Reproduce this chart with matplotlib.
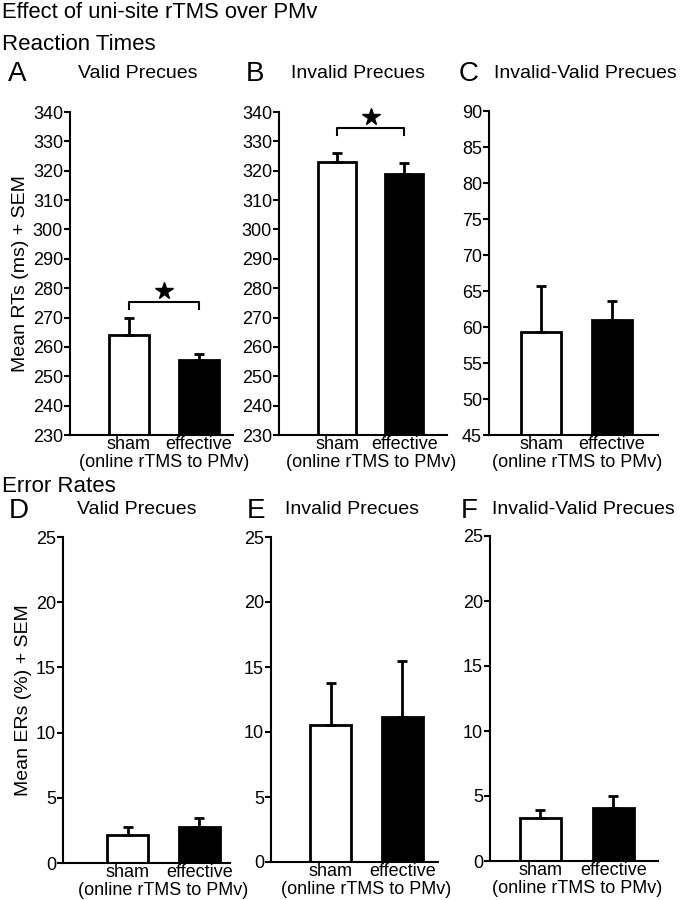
import matplotlib
matplotlib.use("Agg")
import matplotlib.pyplot as plt
import numpy as np

plt.rcParams['font.family'] = ['Liberation Sans', 'DejaVu Sans']

conditions = ["sham", "effective"]
group_label = "(online rTMS to PMv)"

letters = ["A", "B", "C", "D", "E", "F"]
panel_titles = ["Valid Precues", "Invalid Precues", "Invalid-Valid Precues",
                "Valid Precues", "Invalid Precues", "Invalid-Valid Precues"]

# Reaction times (ms)
rt_valid_mean = [263.9, 255.5]
rt_valid_sem = [6.0, 2.0]
rt_invalid_mean = [323.1, 319.0]
rt_invalid_sem = [2.8, 3.6]
rt_diff_mean = [59.3, 61.0]
rt_diff_sem = [6.4, 2.6]

# Error rates (%)
er_valid_mean = [2.17, 2.76]
er_valid_sem = [0.61, 0.69]
er_invalid_mean = [10.54, 11.15]
er_invalid_sem = [3.26, 4.31]
er_diff_mean = [3.33, 4.10]
er_diff_sem = [0.59, 0.90]

means = [rt_valid_mean, rt_invalid_mean, rt_diff_mean,
         er_valid_mean, er_invalid_mean, er_diff_mean]
sems = [rt_valid_sem, rt_invalid_sem, rt_diff_sem,
        er_valid_sem, er_invalid_sem, er_diff_sem]

ylims = [(230, 340), (230, 340), (45, 90), (0, 25), (0, 25), (0, 25)]
ysteps = [10, 10, 5, 5, 5, 5]
ylabels = ["Mean RTs (ms) + SEM", None, None, "Mean ERs (%) + SEM", None, None]
# significance brackets: (bracket y, drop y, star y)
sig = [(275.3, 273.0, 279.0), (334.7, 332.0, 338.3), None, None, None, None]

W, H = 683, 900
# axes rectangles in pixels: x0, x1, ytop, ybottom
rects = [(70, 233, 112, 435), (279, 447, 112, 435), (489, 658, 111, 435),
         (63, 230, 537, 863), (271, 438, 537, 862), (490, 658, 536, 861)]
xlims = [(-0.84, 1.49), (-0.87, 1.64), (-0.74, 1.65),
         (-0.9, 1.43), (-0.835, 1.5), (-0.69, 1.61)]

fig = plt.figure(figsize=(W / 100, H / 100), dpi=100)

fig.text(2 / W, 1 - 12 / H, "Effect of uni-site rTMS over PMv", fontsize=15.8, va='center', ha='left')
fig.text(2 / W, 1 - 45 / H, "Reaction Times", fontsize=16, va='center', ha='left')
fig.text(2 / W, 1 - 487 / H, "Error Rates", fontsize=16, va='center', ha='left')

for i in range(6):
    x0, x1, yt, yb = rects[i]
    ax = fig.add_axes([x0 / W, 1 - yb / H, (x1 - x0) / W, (yb - yt) / H])
    pos = [0, 1]
    lo = ylims[i][0]
    heights = [m - lo for m in means[i]]
    ax.bar(pos, heights, bottom=lo, width=0.57, color=['white', 'black'],
           edgecolor='black', linewidth=2.0, zorder=2)
    ax.errorbar(pos, means[i], yerr=[[0, 0], sems[i]], fmt='none', ecolor='black',
                elinewidth=2.0, capsize=3.5, capthick=2.0, zorder=3)
    ax.set_ylim(*ylims[i])
    ax.set_xlim(*xlims[i])
    ax.set_yticks(np.arange(ylims[i][0], ylims[i][1] + 0.01, ysteps[i]))
    ax.set_xticks(pos)
    ax.set_xticklabels(conditions, fontsize=13)
    ax.tick_params(axis='x', length=0, pad=1)
    ax.tick_params(axis='y', direction='out', length=4, width=1.5, labelsize=13, pad=1)
    for s in ['top', 'right']:
        ax.spines[s].set_visible(False)
    for s in ['left', 'bottom']:
        ax.spines[s].set_linewidth(1.5)
    gx = (0.5 - xlims[i][0]) / (xlims[i][1] - xlims[i][0])
    ax.text(gx, -0.085, group_label, transform=ax.transAxes,
            ha='center', va='center', fontsize=13)
    if ylabels[i]:
        ax.set_ylabel(ylabels[i], fontsize=14, labelpad=3)
    if sig[i]:
        by, dy, sy = sig[i]
        ax.plot([0, 0, 1, 1], [dy, by, by, dy], color='black', lw=1.5, clip_on=False)
        ax.plot([0.5], [sy], marker='*', color='black', markersize=13, clip_on=False)

letter_x = [8, 246, 459, 9, 247, 461]
title_x = [78, 291, 494, 77, 285, 492]
for i in range(6):
    ly = 74 if i < 3 else 511
    fig.text(letter_x[i] / W, 1 - ly / H, letters[i], fontsize=20, va='center', ha='left')
    fig.text(title_x[i] / W, 1 - (ly - 1) / H, panel_titles[i], fontsize=14, va='center', ha='left')

fig.savefig("out.png", dpi=100)
